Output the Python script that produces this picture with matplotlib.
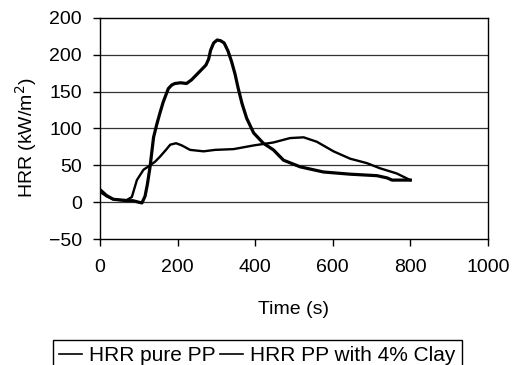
import matplotlib.pyplot as plt

plt.rcParams['font.family'] = ['Liberation Sans', 'DejaVu Sans']

# pure PP curve
time_pp = [0, 17, 34, 52, 69, 85, 100, 108, 116, 122, 129, 138, 146, 155, 163, 176, 185,
           193, 208, 223, 236, 249, 262, 273, 280, 285, 293, 302, 311, 320, 330, 339,
           348, 356, 366, 378, 396, 421, 447, 473, 516, 576, 645, 714, 740, 753, 800]
hrr_pp = [17, 9, 4, 3, 2, 2, 0, -1, 8, 24, 48, 88, 105, 122, 136, 154, 159,
          161, 162, 161, 166, 173, 180, 186, 194, 206, 216, 220, 219, 216, 205, 191,
          174, 155, 134, 114, 94, 80, 71, 57, 48, 41, 38, 36, 33, 30, 30]

# PP with 4% clay
time_clay = [0, 17, 34, 52, 69, 82, 95, 112, 129, 142, 155, 170, 181, 196, 211, 232,
             267, 297, 344, 396, 447, 490, 525, 559, 602, 645, 688, 722, 765, 800]
hrr_clay = [14, 8, 4, 3, 3, 7, 30, 44, 50, 55, 62, 71, 78, 80, 77, 71,
            69, 71, 72, 77, 81, 87, 88, 82, 69, 59, 53, 46, 39, 30]

yticks = [-50, 0, 50, 100, 150, 200, 250]
ytick_labels = ["\u221250", "0", "50", "100", "150", "200", "200"]
xticks = [0, 200, 400, 600, 800, 1000]

fig = plt.figure(figsize=(5.13, 3.65), dpi=100)
ax = fig.add_axes([0.195, 0.345, 0.756, 0.606])

ax.plot(time_pp, hrr_pp, color="black", lw=2.3, label="HRR pure PP",
        solid_joinstyle="round")
ax.plot(time_clay, hrr_clay, color="black", lw=1.7, label="HRR PP with 4% Clay",
        solid_joinstyle="round")

ax.set_xlim(0, 1000)
ax.set_ylim(-50, 250)
ax.set_xticks(xticks)
ax.set_yticks(yticks)
ax.set_yticklabels(ytick_labels)
ax.tick_params(labelsize=14, length=5, width=1, direction="out")
ax.tick_params(axis="x", pad=9)
ax.tick_params(axis="y", pad=8)
for y in yticks[1:-1]:
    ax.axhline(y, color="#333333", lw=0.9, zorder=0)
for s in ax.spines.values():
    s.set_linewidth(1.0)

ax.set_xlabel("Time (s)", fontsize=14)
ax.xaxis.set_label_coords(0.5, -0.28)
ax.set_ylabel("HRR (kW/m$^2$)", fontsize=14)
ax.yaxis.set_label_coords(-0.157, 0.46)

leg = ax.legend(ncol=2, loc="upper center", bbox_to_anchor=(0.502, 0.068),
                bbox_transform=fig.transFigure, fontsize=15, frameon=True,
                fancybox=False, edgecolor="black", framealpha=1,
                handlelength=1.1, handletextpad=0.35, columnspacing=0.2,
                borderpad=0.3, borderaxespad=0)
leg.get_frame().set_linewidth(1.0)
for h in leg.get_lines():
    h.set_linewidth(1.2)

plt.savefig("out.png", dpi=100)
